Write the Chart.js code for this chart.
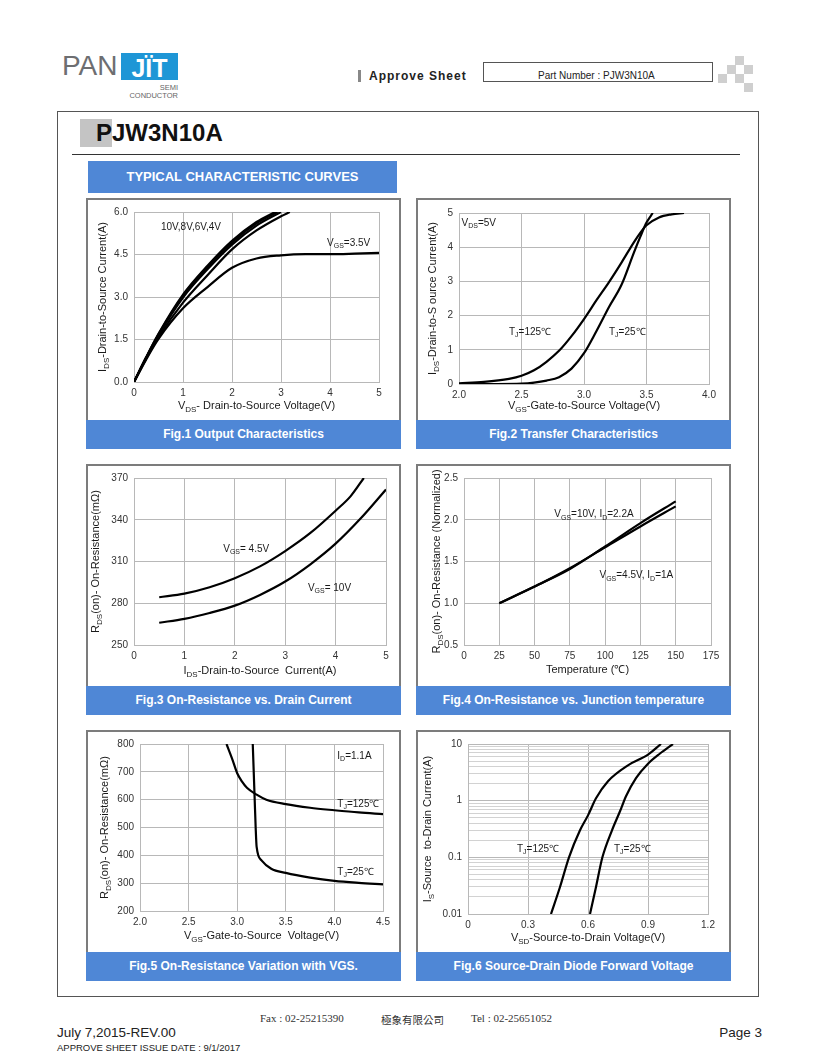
<!DOCTYPE html>
<html>
<head>
<meta charset="utf-8">
<script src="https://cdn.jsdelivr.net/npm/chart.js@4.4.1/dist/chart.umd.min.js"></script>
<style>
  html, body { margin: 0; padding: 0; background: #fff; }
  body { width: 820px; height: 1061px; position: relative; overflow: hidden;
         font-family: "Liberation Sans", Arial, sans-serif; color: #222; }
  .a { position: absolute; white-space: nowrap; }
  .panel { position: absolute; width: 315px; height: 251px; }
  .plot { position: absolute; left: 0; top: 0; width: 315px; height: 222px; box-sizing: border-box;
          border: 2px solid #7c7c7c; border-bottom: none; background: #fff; }
  .plot canvas { position: absolute; left: 0; top: 0; }
  .cap { position: absolute; left: 0; top: 222px; width: 315px; height: 29px; background: #4f87d6;
         color: #fff; font-weight: bold; font-size: 12px; line-height: 29px; text-align: center; }
  .chk { position: absolute; width: 9px; height: 9px; background: #cfcfcf; }
</style>
</head>
<body>

<!-- en-tête -->
<div class="a" style="left:62px;top:50px;font-size:28px;line-height:32px;color:#6d6e71;">PAN</div>
<div class="a" style="left:121px;top:53px;width:57px;height:27px;background:#1e96d6;color:#fff;font-weight:bold;font-size:25px;line-height:30px;text-align:center;">JÏT</div>
<div class="a" style="left:140px;top:83px;width:38px;text-align:right;font-size:7.5px;color:#666;">SEMI</div>
<div class="a" style="left:120px;top:91px;width:58px;text-align:right;font-size:7.5px;color:#666;">CONDUCTOR</div>

<div class="a" style="left:358px;top:70px;width:3px;height:12px;background:#888;"></div>
<div class="a" style="left:369px;top:69px;font-size:12px;font-weight:bold;letter-spacing:1px;color:#222;">Approve Sheet</div>
<div class="a" style="left:483px;top:62px;width:230px;height:20px;box-sizing:border-box;border:1px solid #555;"></div>
<div class="a" style="left:538px;top:70px;font-size:10px;color:#222;">Part Number : PJW3N10A</div>

<div class="chk" style="left:735px;top:56px;"></div>
<div class="chk" style="left:727px;top:65px;"></div>
<div class="chk" style="left:744px;top:65px;"></div>
<div class="chk" style="left:718px;top:74px;"></div>
<div class="chk" style="left:735px;top:74px;"></div>
<div class="chk" style="left:744px;top:83px;"></div>

<!-- cadre principal -->
<div class="a" style="left:57px;top:111px;width:702px;height:886px;box-sizing:border-box;border:1.5px solid #555;"></div>
<div class="a" style="left:80px;top:119px;width:32px;height:28px;background:#c4c4c4;"></div>
<div class="a" style="left:96px;top:119px;font-size:24px;font-weight:bold;line-height:28px;color:#111;">PJW3N10A</div>
<div class="a" style="left:72px;top:154px;width:668px;height:1px;background:#333;"></div>
<div class="a" style="left:88px;top:161px;width:309px;height:32px;background:#4f87d6;color:#fff;font-weight:bold;font-size:13px;line-height:32px;text-align:center;">TYPICAL CHARACTERISTIC CURVES</div>

<div class="panel" style="left:86px;top:198px;"><div class="plot"><canvas id="c1" width="311" height="220"></canvas></div><div class="cap">Fig.1 Output Characteristics</div></div>
<div class="panel" style="left:416px;top:198px;"><div class="plot"><canvas id="c2" width="311" height="220"></canvas></div><div class="cap">Fig.2 Transfer Characteristics</div></div>
<div class="panel" style="left:86px;top:464px;"><div class="plot"><canvas id="c3" width="311" height="220"></canvas></div><div class="cap">Fig.3 On-Resistance vs. Drain Current</div></div>
<div class="panel" style="left:416px;top:464px;"><div class="plot"><canvas id="c4" width="311" height="220"></canvas></div><div class="cap">Fig.4 On-Resistance vs. Junction temperature</div></div>
<div class="panel" style="left:86px;top:730px;"><div class="plot"><canvas id="c5" width="311" height="220"></canvas></div><div class="cap">Fig.5 On-Resistance Variation with VGS.</div></div>
<div class="panel" style="left:416px;top:730px;"><div class="plot"><canvas id="c6" width="311" height="220"></canvas></div><div class="cap">Fig.6 Source-Drain Diode Forward Voltage</div></div>

<!-- pied de page -->
<div class="a" style="left:260px;top:1012px;font-family:'Liberation Serif',serif;font-size:11px;color:#333;">Fax : 02-25215390</div>
<div class="a" style="left:381px;top:1012px;font-family:'Noto Sans CJK TC',sans-serif;font-size:10.5px;color:#333;">極象有限公司</div>
<div class="a" style="left:471px;top:1012px;font-family:'Liberation Serif',serif;font-size:11px;color:#333;">Tel : 02-25651052</div>
<div class="a" style="left:57px;top:1025px;font-size:13.5px;color:#222;">July 7,2015-REV.00</div>
<div class="a" style="left:57px;top:1042px;font-size:9.5px;color:#222;">APPROVE SHEET ISSUE DATE : 9/1/2017</div>
<div class="a" style="left:716px;top:1025px;width:46px;text-align:right;font-size:13.5px;color:#222;">Page 3</div>

<script>
/* ---------------------------- Données ---------------------------- */

// Fig.1  [VDS (V), ID (A)]
const out10V  = [[0,0],[0.25,0.88],[0.5,1.7],[1,3.08],[1.5,4.1],[2,4.98],[2.5,5.65],[2.88,6.0]];
const out8V   = [[0,0],[0.25,0.87],[0.5,1.68],[1,3.04],[1.5,4.06],[2,4.93],[2.5,5.6],[2.93,6.0]];
const out6V   = [[0,0],[0.25,0.86],[0.5,1.65],[1,2.98],[1.5,3.98],[2,4.85],[2.5,5.52],[3.0,6.0]];
const out4V   = [[0,0],[0.25,0.83],[0.5,1.58],[1,2.8],[1.5,3.77],[2,4.68],[2.5,5.35],[3,5.85],[3.18,6.0]];
const out3V5  = [[0,0],[0.25,0.8],[0.5,1.52],[1,2.6],[1.5,3.35],[2,4.03],[2.5,4.36],[3,4.47],[3.5,4.51],[4,4.51],[4.5,4.53],[5,4.56]];
const fig1XTicks = [0, 1, 2, 3, 4, 5];
const fig1XLabels = ['0', '1', '2', '3', '4', '5'];
const fig1YTicks = [0, 1.5, 3, 4.5, 6];
const fig1YLabels = ['0.0', '1.5', '3.0', '4.5', '6.0'];

// Fig.2  [VGS (V), ID (A)]
const tr125 = [[2.0,0.02],[2.2,0.06],[2.4,0.15],[2.5,0.24],[2.6,0.4],[2.7,0.65],[2.8,0.97],[2.9,1.4],[3.0,1.9],
               [3.1,2.45],[3.2,2.98],[3.3,3.55],[3.4,4.15],[3.45,4.42],[3.5,4.64],[3.6,4.87],[3.7,4.96],[3.8,5.0]];
const tr25  = [[2.0,0],[2.3,0.0],[2.5,0.01],[2.6,0.04],[2.7,0.1],[2.8,0.2],[2.9,0.45],[3.0,0.9],[3.1,1.55],
               [3.2,2.25],[3.3,2.9],[3.4,3.85],[3.45,4.3],[3.5,4.72],[3.55,5.0]];
const fig2XTicks = [2.0, 2.5, 3.0, 3.5, 4.0];
const fig2XLabels = ['2.0', '2.5', '3.0', '3.5', '4.0'];
const fig2YTicks = [0, 1, 2, 3, 4, 5];
const fig2YLabels = ['0', '1', '2', '3', '4', '5'];

// Fig.3  [ID (A), RDS(on) (mΩ)]
const rds45V = [[0.5,284.3],[1,286.9],[1.5,291.5],[2,298],[2.5,306.5],[3,317.5],[3.5,330.5],[4,346.5],[4.3,357],[4.56,370]];
const rds10V = [[0.5,266],[1,268.8],[1.5,273],[2,278.3],[2.5,286],[3,295.6],[3.5,308],[4,322.8],[4.5,341],[5,361.7]];
const fig3XTicks = [0, 1, 2, 3, 4, 5];
const fig3XLabels = ['0', '1', '2', '3', '4', '5'];
const fig3YTicks = [250, 280, 310, 340, 370];
const fig3YLabels = ['250', '280', '310', '340', '370'];

// Fig.4  [Tj (°C), RDS(on) normalisé]
const norm10V  = [[25,1.0],[50,1.2],[75,1.41],[100,1.68],[125,1.96],[150,2.22]];
const norm45V  = [[25,1.0],[50,1.2],[75,1.42],[100,1.67],[125,1.92],[150,2.16]];
const fig4XTicks = [0, 25, 50, 75, 100, 125, 150, 175];
const fig4XLabels = ['0', '25', '50', '75', '100', '125', '150', '175'];
const fig4YTicks = [0.5, 1.0, 1.5, 2.0, 2.5];
const fig4YLabels = ['0.5', '1.0', '1.5', '2.0', '2.5'];

// Fig.5  [VGS (V), RDS(on) (mΩ)]
const vgs125 = [[2.89,800],[2.95,745],[3.0,695],[3.05,665],[3.1,643],[3.2,618],[3.3,600],[3.5,584],[3.75,571],[4.0,562],[4.25,554],[4.5,548]];
const vgs25  = [[3.16,800],[3.17,700],[3.18,600],[3.19,500],[3.2,430],[3.25,382],[3.35,352],[3.5,337],[3.75,320],[4.0,308],[4.25,301],[4.5,296]];
const fig5XTicks = [2.0, 2.5, 3.0, 3.5, 4.0, 4.5];
const fig5XLabels = ['2.0', '2.5', '3.0', '3.5', '4.0', '4.5'];
const fig5YTicks = [200, 300, 400, 500, 600, 700, 800];
const fig5YLabels = ['200', '300', '400', '500', '600', '700', '800'];

// Fig.6  [VSD (V), IS (A)]
const diode125 = [[0.415,0.01],[0.46,0.03],[0.505,0.1],[0.56,0.3],[0.6,0.55],[0.64,1.1],[0.7,2.2],[0.8,4.2],[0.9,6.5],[0.965,10]];
const diode25  = [[0.61,0.01],[0.64,0.03],[0.672,0.1],[0.72,0.3],[0.76,0.65],[0.79,1.2],[0.84,2.5],[0.9,4.5],[0.96,6.8],[1.025,10]];
const fig6XTicks = [0, 0.3, 0.6, 0.9, 1.2];
const fig6XLabels = ['0', '0.3', '0.6', '0.9', '1.2'];
const fig6YTicks = [0.01, 0.1, 1, 10];
const fig6YLabels = ['0.01', '0.1', '1', '10'];
const logMultipliers = [1, 2, 3, 4, 5, 6, 7, 8, 9];   // lignes secondaires par décade

/* --------------------------------- Rendu ---------------------------------- */
const FONT = '"Liberation Sans", Arial, sans-serif';
const CANVAS_W = 311, CANVAS_H = 220;

/** "V_{DS}-..." -> segments normal / indice. */
function richParts(s) {
  const out = [];
  const re = /_\{([^}]*)\}/g;
  let last = 0, m;
  while ((m = re.exec(s))) {
    if (m.index > last) out.push({ t: s.slice(last, m.index), sub: false });
    out.push({ t: m[1], sub: true });
    last = re.lastIndex;
  }
  if (last < s.length) out.push({ t: s.slice(last), sub: false });
  return out;
}

function drawRich(ctx, s, x, y, size, align) {
  const parts = richParts(s);
  const subSize = Math.round(size * 0.72);
  let w = 0;
  parts.forEach((p) => {
    ctx.font = `${p.sub ? subSize : size}px ${FONT}`;
    p.w = ctx.measureText(p.t).width;
    w += p.w;
  });
  let cx = align === 'center' ? x - w / 2 : x;
  ctx.textAlign = 'left';
  ctx.textBaseline = 'middle';
  parts.forEach((p) => {
    ctx.font = `${p.sub ? subSize : size}px ${FONT}`;
    ctx.fillText(p.t, cx, p.sub ? y + size * 0.3 : y);
    cx += p.w;
  });
}

// titres d'axes avec indices + annotations dans le graphe
const richText = {
  id: 'richText',
  afterDraw(chart, args, o) {
    const { ctx, chartArea: a, scales } = chart;
    ctx.save();
    ctx.fillStyle = '#1a1a1a';
    drawRich(ctx, o.xTitle, (a.left + a.right) / 2, o.xTitleY, 11, 'center');
    ctx.save();
    ctx.translate(o.yTitleX, (a.top + a.bottom) / 2);
    ctx.rotate(-Math.PI / 2);
    drawRich(ctx, o.yTitle, 0, 0, 11, 'center');
    ctx.restore();
    o.notes.forEach((n) => {
      drawRich(ctx, n.text, scales.x.getPixelForValue(n.x), scales.y.getPixelForValue(n.y), 10, 'left');
    });
    ctx.restore();
  },
};

function axis({ ticks, labels, grid, log }, size, horizontal) {
  const gridValues = grid || ticks;
  return {
    type: log ? 'logarithmic' : 'linear',
    min: ticks[0],
    max: ticks[ticks.length - 1],
    afterBuildTicks: (sc) => { sc.ticks = gridValues.map((v) => ({ value: v })); },
    afterFit: (sc) => { if (horizontal) sc.height = size; else sc.width = size; },
    ticks: {
      autoSkip: false, maxRotation: 0, padding: horizontal ? 5 : 6,
      color: '#333', font: { family: FONT, size: 10 },
      callback: (v) => { const i = ticks.indexOf(v); return i < 0 ? '' : labels[i]; },
    },
    grid: {
      drawTicks: false, lineWidth: 1,
      color: (ctx) => (ctx.tick && ticks.indexOf(ctx.tick.value) < 0 ? '#d2d2d2' : '#b8b8b8'),
    },
    border: { color: '#b8b8b8' },
  };
}

function build(id, cfg) {
  const [l, t, r, b] = cfg.area;
  return new Chart(document.getElementById(id), {
    type: 'line',
    data: {
      datasets: cfg.series.map((s) => ({
        data: s.map(([x, y]) => ({ x, y })),
        borderColor: '#000', borderWidth: 2.2, pointRadius: 0, fill: false,
        cubicInterpolationMode: 'monotone',
      })),
    },
    options: {
      responsive: false, animation: false, events: [],
      layout: { padding: { left: 0, top: t, right: CANVAS_W - r, bottom: 0 } },
      scales: { x: axis(cfg.x, CANVAS_H - b, true), y: axis(cfg.y, l, false) },
      plugins: {
        legend: { display: false }, tooltip: { enabled: false },
        richText: { xTitle: cfg.xTitle, xTitleY: cfg.xTitleY, yTitle: cfg.yTitle, yTitleX: cfg.yTitleX, notes: cfg.notes },
      },
    },
    plugins: [richText],
  });
}

build('c1', {
  area: [46, 12, 291, 182],
  series: [out10V, out8V, out6V, out4V, out3V5],
  x: { ticks: fig1XTicks, labels: fig1XLabels },
  y: { ticks: fig1YTicks, labels: fig1YLabels },
  xTitle: 'V_{DS}- Drain-to-Source Voltage(V)', xTitleY: 206,
  yTitle: 'I_{DS}-Drain-to-Source Current(A)', yTitleX: 15,
  notes: [{ x: 0.55, y: 5.47, text: '10V,8V,6V,4V' }, { x: 3.94, y: 4.9, text: 'V_{GS}=3.5V' }],
});

build('c2', {
  area: [41, 13, 291, 184],
  series: [tr125, tr25],
  x: { ticks: fig2XTicks, labels: fig2XLabels },
  y: { ticks: fig2YTicks, labels: fig2YLabels },
  xTitle: 'V_{GS}-Gate-to-Source Voltage(V)', xTitleY: 206,
  yTitle: 'I_{DS}-Drain-to-S ource Current(A)', yTitleX: 15,
  notes: [
    { x: 2.02, y: 4.7, text: 'V_{DS}=5V' },
    { x: 2.4, y: 1.52, text: 'T_{J}=125℃' },
    { x: 3.2, y: 1.52, text: 'T_{J}=25℃' },
  ],
});

build('c3', {
  area: [46, 9, 298, 179],
  series: [rds45V, rds10V],
  x: { ticks: fig3XTicks, labels: fig3XLabels },
  y: { ticks: fig3YTicks, labels: fig3YLabels },
  xTitle: 'I_{DS}-Drain-to-Source  Current(A)', xTitleY: 205,
  yTitle: 'R_{DS}(on)- On-Resistance(mΩ)', yTitleX: 8,
  notes: [{ x: 1.77, y: 319, text: 'V_{GS}= 4.5V' }, { x: 3.45, y: 291, text: 'V_{GS}= 10V' }],
});

build('c4', {
  area: [46, 9, 293, 179],
  series: [norm10V, norm45V],
  x: { ticks: fig4XTicks, labels: fig4XLabels },
  y: { ticks: fig4YTicks, labels: fig4YLabels },
  xTitle: 'Temperature (℃)', xTitleY: 204,
  yTitle: 'R_{DS}(on)- On-Resistance (Normalized)', yTitleX: 19,
  notes: [
    { x: 64, y: 2.06, text: 'V_{GS}=10V, I_{D}=2.2A' },
    { x: 96, y: 1.33, text: 'V_{GS}=4.5V, I_{D}=1A' },
  ],
});

build('c5', {
  area: [52, 10, 295, 179],
  series: [vgs125, vgs25],
  x: { ticks: fig5XTicks, labels: fig5XLabels },
  y: { ticks: fig5YTicks, labels: fig5YLabels },
  xTitle: 'V_{GS}-Gate-to-Source  Voltage(V)', xTitleY: 204,
  yTitle: 'R_{DS}(on)- On-Resistance(mΩ)', yTitleX: 17,
  notes: [
    { x: 4.03, y: 757, text: 'I_{D}=1.1A' },
    { x: 4.03, y: 583, text: 'T_{J}=125℃' },
    { x: 4.03, y: 339, text: 'T_{J}=25℃' },
  ],
});

// grille logarithmique : 1..9 par décade, puis 10
const fig6YGrid = fig6YTicks.slice(0, -1).flatMap((d) => logMultipliers.map((m) => d * m)).concat([fig6YTicks[fig6YTicks.length - 1]]);

build('c6', {
  area: [50, 10, 290, 182],
  series: [diode125, diode25],
  x: { ticks: fig6XTicks, labels: fig6XLabels },
  y: { ticks: fig6YTicks, labels: fig6YLabels, grid: fig6YGrid, log: true },
  xTitle: 'V_{SD}-Source-to-Drain Voltage(V)', xTitleY: 206,
  yTitle: 'I_{S}-Source  to-Drain Current(A)', yTitleX: 10,
  notes: [{ x: 0.245, y: 0.141, text: 'T_{J}=125℃' }, { x: 0.73, y: 0.141, text: 'T_{J}=25℃' }],
});
</script>
</body>
</html>
